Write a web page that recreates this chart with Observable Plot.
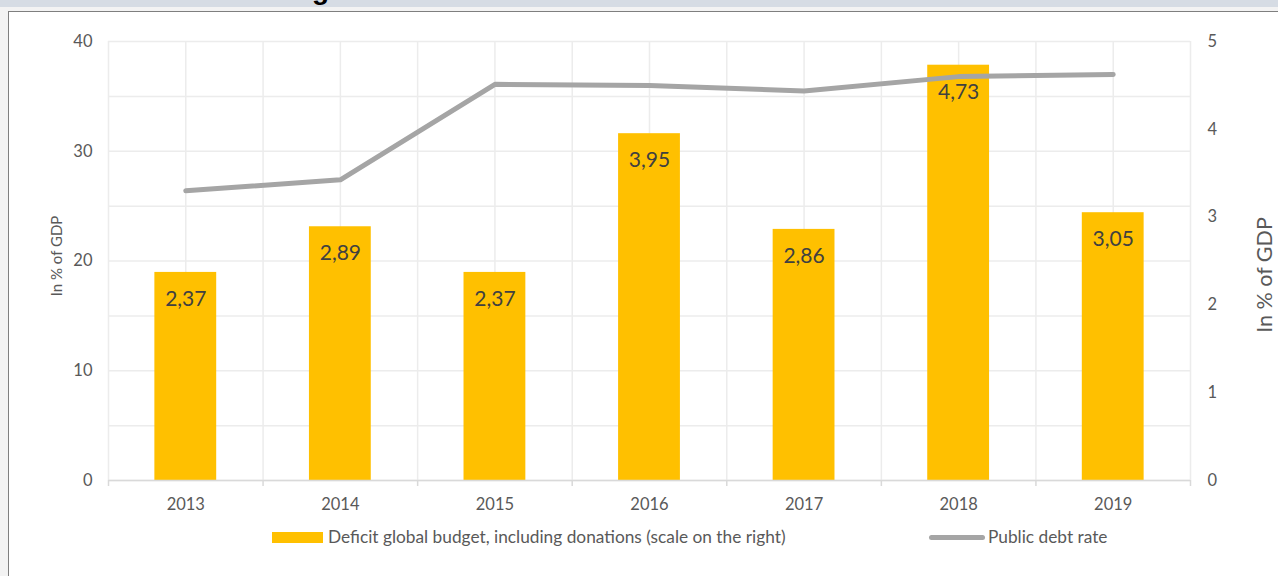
<!DOCTYPE html>
<html>
<head>
<meta charset="utf-8">
<script src="https://cdn.jsdelivr.net/npm/d3@7"></script>
<script src="https://cdn.jsdelivr.net/npm/@observablehq/plot@0.6"></script>
<style>
  html, body { margin: 0; padding: 0; }
  body { width: 1278px; height: 576px; background: #f3f3f3; position: relative; overflow: hidden; font-family: Lato, "Open Sans", sans-serif; }
  #band { position: absolute; left: 0; top: 0; width: 1278px; height: 7px; background: #d6dce4; overflow: hidden; }
  #band span { position: absolute; left: 312px; top: -26px; font: bold 28px "Liberation Sans", Arial, sans-serif; color: #000; }
  #frame { position: absolute; left: 8px; top: 11px; width: 1300px; height: 600px; background: #fff; border-left: 1.5px solid #7f7f7f; border-top: 1.5px solid #7f7f7f; }
  #chart { position: absolute; left: 0; top: 0; }
  .legend { position: absolute; top: 527px; height: 20px; font-size: 17.3px; color: #595959; line-height: 20px; white-space: nowrap; }
  .sw-bar { position: absolute; top: 532px; width: 51px; height: 11px; background: #ffc000; }
  .sw-line { position: absolute; top: 535px; width: 56px; height: 5px; border-radius: 3px; background: #a5a5a5; }
</style>
</head>
<body>
<div id="band"><span>g</span></div>
<div id="frame"></div>
<div id="chart"></div>
<div class="sw-bar" style="left:272px"></div>
<div class="legend" id="leg1" style="left:328px"></div>
<div class="sw-line" style="left:929px"></div>
<div class="legend" id="leg2" style="left:988px"></div>
<script>
const years = [2013, 2014, 2015, 2016, 2017, 2018, 2019];
const deficit = [2.37, 2.89, 2.37, 3.95, 2.86, 4.73, 3.05];   // right scale, % of GDP
const debt = [26.4, 27.4, 36.1, 36.0, 35.5, 36.8, 37.0];        // left scale, % of GDP
const leftTicks = [0, 10, 20, 30, 40];
const rightTicks = [0, 1, 2, 3, 4, 5];
const gridLeft = [0, 5, 10, 15, 20, 25, 30, 35, 40];
const seriesNames = ["Deficit global budget, including donations (scale on the right)", "Public debt rate"];
const axisTitle = "In % of GDP";

const ratio = 40 / 5; // left max / right max
const data = years.map((y, i) => ({year: y, deficit: deficit[i], debt: debt[i]}));
const bounds = [years[0] - 0.5, ...years.map(y => y + 0.5)];
const gridX = [...bounds, ...years].sort((a, b) => a - b);

const chart = Plot.plot({
  width: 1278,
  height: 520,
  marginTop: 41,
  marginBottom: 40,
  marginLeft: 108,
  marginRight: 88,
  style: {fontFamily: "Lato, 'Open Sans', sans-serif", fontSize: "16px", color: "#595959", background: "transparent", overflow: "visible"},
  x: {domain: [bounds[0], bounds[bounds.length - 1]]},
  y: {domain: [0, 40]},
  marks: [
    Plot.gridY(gridLeft, {stroke: "#ececec", strokeOpacity: 1, strokeWidth: 1.5}),
    Plot.gridX(gridX, {stroke: "#ececec", strokeOpacity: 1, strokeWidth: 1.5}),
    Plot.rectY(data, {x1: d => d.year - 0.2, x2: d => d.year + 0.2, y1: 0, y2: d => d.deficit * ratio, fill: "#ffc000"}),
    Plot.ruleY([0], {stroke: "#d9d9d9", strokeWidth: 1.5}),
    Plot.axisX(bounds, {tickSize: 6, tickFormat: () => "", stroke: "#d9d9d9", strokeWidth: 1.5, label: null}),
    Plot.axisX(years, {tickSize: 0, tickPadding: 18, fontSize: 16.5, tickFormat: d => String(d), fill: "#595959", label: null}),
    Plot.axisY(leftTicks, {anchor: "left", tickSize: 0, tickPadding: 16, fontSize: 16.5, fill: "#595959", label: null}),
    Plot.axisY(rightTicks.map(v => v * ratio), {anchor: "right", tickSize: 0, tickPadding: 17, fontSize: 16.5, tickFormat: d => String(d / ratio), fill: "#595959", label: null}),
    Plot.line(data, {x: "year", y: "debt", stroke: "#a5a5a5", strokeWidth: 5, strokeLinecap: "round"}),
    Plot.text(data, {x: "year", y: d => d.deficit * ratio, text: d => d.deficit.toFixed(2).replace(".", ","), dy: 27, fontSize: 21, fill: "#404040"}),
    Plot.text([axisTitle], {frameAnchor: "left", textAnchor: "middle", dx: -51, dy: -5, rotate: -90, fontSize: 15, fill: "#595959"}),
    Plot.text([axisTitle], {frameAnchor: "right", textAnchor: "middle", dx: 75, dy: 14, rotate: -90, fontSize: 21.5, fill: "#595959"})
  ]
});
document.getElementById("chart").appendChild(chart);
document.getElementById("leg1").textContent = seriesNames[0];
document.getElementById("leg2").textContent = seriesNames[1];
</script>
</body>
</html>
